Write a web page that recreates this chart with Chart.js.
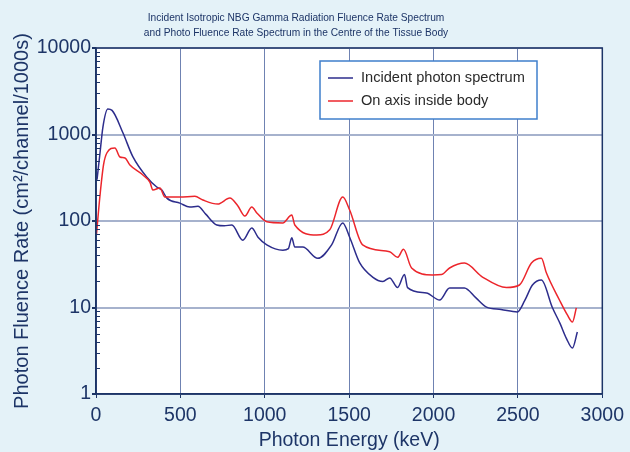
<!DOCTYPE html>
<html>
<head>
<meta charset="utf-8">
<script src="https://cdn.jsdelivr.net/npm/chart.js@4.4.1/dist/chart.umd.min.js"></script>
<style>
html,body{margin:0;padding:0;background:#e4f2f8;}
#wrap{width:630px;height:452px;}
</style>
</head>
<body>
<div id="wrap"><canvas id="c" width="630" height="452"></canvas></div>
<script>
const titleLines = ["Incident Isotropic NBG Gamma Radiation Fluence Rate Spectrum",
                    "and Photo Fluence Rate Spectrum in the Centre of the Tissue Body"];
const xTitle = "Photon Energy (keV)";
const yTitle = "Photon Fluence Rate (cm\u00B2/channel/1000s)";
const seriesNames = ["Incident photon spectrum", "On axis inside body"];
const xTicks = [0, 500, 1000, 1500, 2000, 2500, 3000];
const yTicks = [1, 10, 100, 1000, 10000];

const incidentEnergy = [6, 24, 41, 70, 95, 160, 219, 300, 360, 390, 420, 497, 556, 604, 650, 716, 760, 805, 870, 923, 960, 1012, 1107, 1140, 1160, 1178, 1225, 1314, 1396, 1462, 1503, 1562, 1639, 1700, 1740, 1787, 1828, 1846, 1958, 2036, 2095, 2183, 2250, 2314, 2400, 2497, 2540, 2586, 2639, 2704, 2750, 2787, 2823, 2852];
const incidentFluence = [300, 620, 1220, 1970, 1900, 1040, 550, 323, 247, 228, 184, 161, 145, 148, 120, 90, 88, 90, 60, 83, 65, 53, 46, 48, 64, 50, 50, 37, 53, 95, 65, 33, 22.5, 20, 22, 17, 24, 17, 14.7, 12.2, 16.8, 16.8, 13, 10.1, 9.5, 8.9, 12, 18.2, 20.8, 10, 6.5, 4.4, 3.4, 5.2];

const bodyEnergy = [3, 24, 45, 65, 112, 142, 172, 201, 278, 320, 337, 379, 408, 497, 586, 633, 722, 793, 840, 882, 923, 953, 1012, 1107, 1160, 1178, 1308, 1385, 1462, 1503, 1580, 1740, 1787, 1822, 1870, 1994, 2047, 2095, 2183, 2290, 2432, 2509, 2580, 2639, 2669, 2746, 2793, 2823, 2846];
const bodyFluence = [71, 200, 450, 615, 700, 550, 535, 444, 340, 280, 228, 241, 189, 189, 193, 175, 157, 184, 150, 114, 145, 124, 98, 95, 117, 90, 69, 79, 189, 134, 53, 44, 38, 47, 28.6, 23.8, 24, 28.6, 32.6, 22.5, 17, 18.2, 32.6, 37, 25, 12.2, 8.2, 6.8, 9.9];

const colors = ["#2d2d8c", "#ec262c"];
const navy = "#1d3567";
const FONT = "'Liberation Sans', Arial, Helvetica, sans-serif";

function pts(xs, ys){ return xs.map((x,i)=>({x:x, y:ys[i]})); }

const decorPlugin = {
  id: 'decor',
  beforeDraw(chart){
    const ctx = chart.ctx, a = chart.chartArea;
    ctx.save();
    ctx.fillStyle = '#e4f2f8';
    ctx.fillRect(0,0,chart.width,chart.height);
    ctx.fillStyle = '#ffffff';
    ctx.fillRect(a.left,a.top,a.right-a.left,a.bottom-a.top);
    ctx.restore();
  },
  afterDraw(chart){
    const ctx = chart.ctx, a = chart.chartArea;
    const ys = chart.scales.y;
    ctx.save();
    ctx.strokeStyle = navy;
    ctx.lineWidth = 1.5;
    ctx.strokeRect(a.left, a.top, a.right-a.left, a.bottom-a.top);
    ctx.lineWidth = 1;
    ctx.beginPath();
    for (let d = 1; d < 10000; d *= 10){
      for (let m = 2; m <= 9; m++){
        const py = Math.round(ys.getPixelForValue(d*m)) + 0.5;
        ctx.moveTo(a.left, py); ctx.lineTo(a.left+4, py);
      }
    }
    ctx.stroke();
    ctx.fillStyle = navy;
    ctx.font = "10.2px " + FONT;
    ctx.textAlign = 'center';
    ctx.textBaseline = 'middle';
    ctx.fillText(titleLines[0], 296, 18);
    ctx.fillText(titleLines[1], 296, 33);
    const lx = 320, ly = 61, lw = 217, lh = 58;
    ctx.fillStyle = '#ffffff';
    ctx.fillRect(lx, ly, lw, lh);
    ctx.strokeStyle = '#3f7fcc';
    ctx.lineWidth = 1.5;
    ctx.strokeRect(lx, ly, lw, lh);
    ctx.font = "14.6px " + FONT;
    ctx.textAlign = 'left';
    ctx.textBaseline = 'middle';
    chart.data.datasets.forEach((ds, i) => {
      const yy = 78 + i*23;
      ctx.strokeStyle = ds.borderColor;
      ctx.lineWidth = 1.5;
      ctx.beginPath(); ctx.moveTo(328, yy); ctx.lineTo(353, yy); ctx.stroke();
      ctx.fillStyle = '#2a2a2a';
      ctx.fillText(ds.label, 361, yy);
    });
    ctx.restore();
  }
};

new Chart(document.getElementById('c'), {
  type: 'scatter',
  data: {
    datasets: [
      { label: seriesNames[0], data: pts(incidentEnergy, incidentFluence), showLine: true,
        borderColor: colors[0], backgroundColor: colors[0], borderWidth: 1.5, pointRadius: 0,
        cubicInterpolationMode: 'monotone', order: 2 },
      { label: seriesNames[1], data: pts(bodyEnergy, bodyFluence), showLine: true,
        borderColor: colors[1], backgroundColor: colors[1], borderWidth: 1.5, pointRadius: 0,
        cubicInterpolationMode: 'monotone', order: 1 }
    ]
  },
  options: {
    responsive: false,
    animation: false,
    devicePixelRatio: 1,
    layout: { padding: { left: 0, right: 25, top: 48, bottom: 0 } },
    plugins: { legend: { display: false }, tooltip: { enabled: false }, title: { display: false } },
    scales: {
      x: {
        type: 'linear', min: 0, max: 3000,
        afterBuildTicks: s => { s.ticks = xTicks.map(v => ({value: v})); },
        afterFit: s => { s.height = 58; },
        ticks: { color: navy, font: { size: 19.5, family: FONT }, padding: 6, maxRotation: 0, autoSkip: false, callback: v => String(v) },
        grid: { color: '#6f82b2', lineWidth: 1, tickLength: 4, tickColor: navy },
        border: { display: true, color: navy, width: 1.5 },
        title: { display: true, text: xTitle, color: navy, font: { size: 19.5, family: FONT }, padding: { top: 0, bottom: 0 } }
      },
      y: {
        type: 'logarithmic', min: 1, max: 10000,
        afterBuildTicks: s => { s.ticks = yTicks.map(v => ({value: v})); },
        afterFit: s => { s.width = 96; },
        ticks: { color: navy, font: { size: 19.5, family: FONT }, padding: 1, callback: v => String(v), autoSkip: false },
        grid: { color: '#a6b2cd', lineWidth: 2, tickLength: 4, tickColor: navy },
        border: { display: true, color: navy, width: 1.5 },
        title: { display: true, text: yTitle, color: navy, font: { size: 20, family: FONT }, padding: { top: 10, bottom: 0 } }
      }
    }
  },
  plugins: [decorPlugin]
});
</script>
</body>
</html>
